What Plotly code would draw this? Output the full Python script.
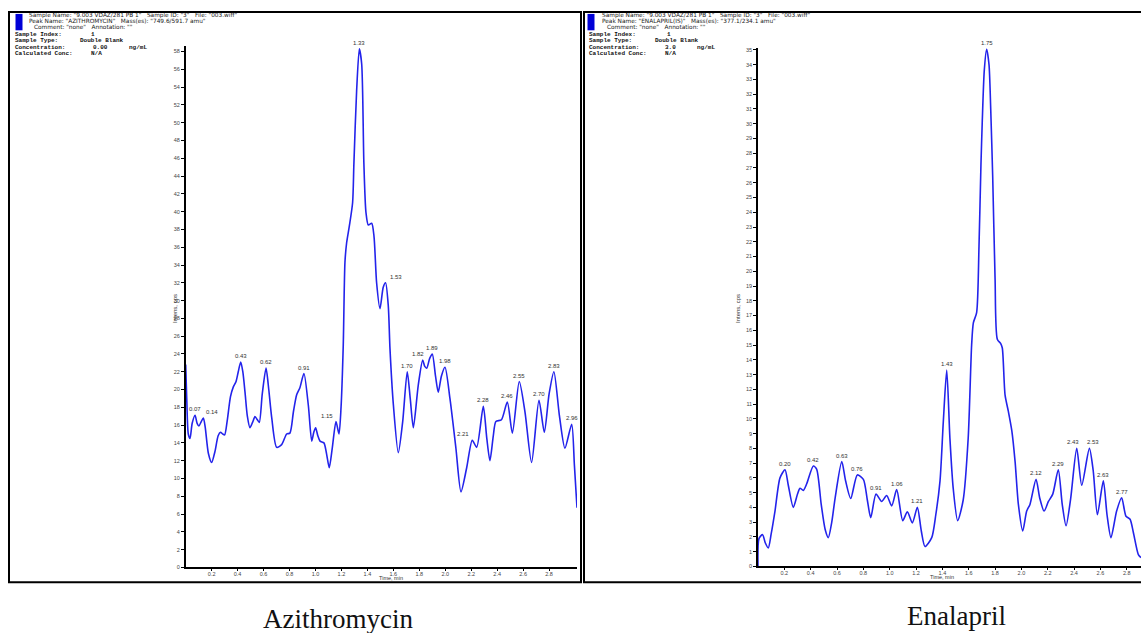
import plotly.graph_objects as go

W, H = 1141, 633

# ---------------- data ----------------
az_time = [0.000, 0.008, 0.020, 0.033, 0.050, 0.072, 0.088, 0.102, 0.120, 0.136, 0.150, 0.175,
           0.200, 0.225, 0.250, 0.268, 0.285, 0.300, 0.320, 0.345, 0.367, 0.388, 0.405, 0.424,
           0.440, 0.457, 0.475, 0.495, 0.515, 0.534, 0.552, 0.567, 0.590, 0.619, 0.640, 0.663,
           0.701, 0.739, 0.778, 0.803, 0.830, 0.855, 0.880, 0.911, 0.945, 0.971, 0.987, 1.001,
           1.018, 1.035, 1.065, 1.085, 1.106, 1.130, 1.158, 1.181, 1.197, 1.214, 1.227, 1.240,
           1.261, 1.286, 1.296, 1.317, 1.338, 1.356, 1.373, 1.389, 1.407, 1.433, 1.451, 1.471,
           1.497, 1.522, 1.540, 1.561, 1.574, 1.600, 1.638, 1.672, 1.707, 1.730, 1.754, 1.792,
           1.826, 1.842, 1.857, 1.880, 1.900, 1.925, 1.946, 1.970, 1.998, 2.036, 2.082, 2.121,
           2.165, 2.208, 2.242, 2.293, 2.320, 2.344, 2.370, 2.390, 2.433, 2.478, 2.517, 2.570,
           2.614, 2.665, 2.722, 2.763, 2.800, 2.837, 2.880, 2.922, 2.974, 2.995, 3.015]
az_int = [22.8, 19.0, 15.0, 14.5, 16.2, 17.1, 16.2, 15.9, 16.4, 16.8, 15.8, 12.8,
          11.8, 13.0, 14.8, 15.2, 15.0, 14.9, 16.5, 19.2, 20.3, 20.9, 22.0, 23.1,
          22.0, 19.7, 17.0, 15.7, 16.3, 16.95, 16.6, 16.3, 19.5, 22.4, 20.0, 16.8,
          13.5, 13.8, 15.0, 15.1, 17.5, 19.4, 20.2, 21.8, 18.2, 14.2, 15.2, 15.7,
          14.8, 14.2, 14.0, 12.8, 11.2, 13.5, 16.4, 15.0, 18.0, 25.0, 34.3, 36.5,
          38.4, 41.0, 45.4, 53.6, 58.3, 56.6, 45.4, 39.9, 38.5, 38.7, 37.2, 32.0,
          29.1, 31.5, 32.0, 29.4, 24.6, 18.3, 12.9, 16.4, 22.0, 19.0, 15.7, 20.5,
          23.3, 22.6, 22.4, 23.5, 24.0, 21.5, 19.7, 21.5, 22.5, 19.0, 13.4, 8.5,
          11.2, 14.3, 13.5, 18.1, 14.5, 12.0, 14.8, 16.4, 16.6, 18.6, 15.1, 20.9,
          17.5, 11.8, 18.8, 15.2, 19.5, 22.0, 17.0, 13.4, 16.1, 11.5, 6.7]
az_peak_labels = ["0.07", "0.14", "0.43", "0.62", "0.91", "1.15", "1.33", "1.53", "1.70", "1.82",
                  "1.89", "1.98", "2.21", "2.28", "2.46", "2.55", "2.70", "2.83", "2.96"]

en_time = [0.000, 0.008, 0.035, 0.055, 0.078, 0.100, 0.129, 0.167, 0.205, 0.230, 0.268, 0.300,
           0.319, 0.344, 0.370, 0.420, 0.445, 0.480, 0.510, 0.534, 0.560, 0.585, 0.636, 0.665,
           0.704, 0.754, 0.800, 0.830, 0.856, 0.896, 0.939, 0.977, 1.015, 1.053, 1.099, 1.134,
           1.172, 1.210, 1.240, 1.268, 1.319, 1.350, 1.382, 1.407, 1.433, 1.457, 1.482, 1.516,
           1.558, 1.596, 1.622, 1.635, 1.660, 1.678, 1.693, 1.703, 1.718, 1.736, 1.754, 1.767,
           1.782, 1.800, 1.817, 1.843, 1.855, 1.876, 1.901, 1.927, 1.952, 1.977, 2.010, 2.040,
           2.065, 2.111, 2.140, 2.172, 2.205, 2.238, 2.280, 2.310, 2.339, 2.374, 2.420, 2.458,
           2.516, 2.545, 2.577, 2.622, 2.650, 2.680, 2.723, 2.761, 2.794, 2.825, 2.850, 2.888,
           2.908]
en_int = [0.0, 1.9, 2.15, 1.6, 1.25, 2.2, 3.75, 6.0, 6.55, 5.5, 4.0, 4.9,
          5.3, 5.15, 5.6, 6.8, 6.6, 4.2, 2.5, 1.95, 3.0, 4.6, 7.1, 5.8,
          4.6, 6.2, 5.9, 4.5, 3.3, 4.9, 4.4, 4.8, 4.1, 5.2, 3.1, 3.7,
          2.95, 4.0, 2.4, 1.35, 1.95, 3.5, 5.8, 9.8, 13.3, 8.7, 5.3, 3.1,
          4.5, 8.7, 15.0, 16.5, 17.2, 21.7, 27.3, 30.2, 33.6, 35.05, 34.0, 31.0,
          26.4, 19.5, 15.4, 15.1, 14.8, 11.6, 10.5, 9.2, 7.1, 4.2, 2.4, 3.75,
          4.2, 5.9, 4.6, 3.75, 4.4, 4.9, 6.55, 4.2, 2.75, 4.6, 8.0, 5.5,
          8.0, 6.5, 3.5, 5.8, 3.5, 1.95, 3.75, 4.65, 3.4, 3.2, 2.3, 0.8,
          0.6]
en_peak_labels = ["0.20", "0.42", "0.63", "0.76", "0.91", "1.06", "1.21", "1.43", "1.75", "2.12",
                  "2.29", "2.43", "2.53", "2.63", "2.77"]

x_tick_vals = [0.2, 0.4, 0.6, 0.8, 1.0, 1.2, 1.4, 1.6, 1.8, 2.0, 2.2, 2.4, 2.6, 2.8]
x_tick_text = ["0.2", "0.4", "0.6", "0.8", "1.0", "1.2", "1.4", "1.6", "1.8", "2.0", "2.2", "2.4", "2.6", "2.8"]
az_y_ticks = list(range(0, 59, 2))
en_y_ticks = list(range(0, 36))

captions = ["Azithromycin", "Enalapril"]

az_header = ['Sample Name: "9.003 VDAZ/281 PB 1"   Sample ID: "3"   File: "003.wiff"',
             'Peak Name: "AZITHROMYCIN"   Mass(es): "749.6/591.7 amu"',
             'Comment: "none"   Annotation: ""']
en_header = ['Sample Name: "9.003 VDAZ/281 PB 1"   Sample ID: "3"   File: "003.wiff"',
             'Peak Name: "ENALAPRIL(IS)"   Mass(es): "377.1/234.1 amu"',
             'Comment: "none"   Annotation: ""']
info_keys = ["Sample Index:", "Sample Type:", "Concentration:", "Calculated Conc:"]
az_info_vals = ["1", "Double Blank", "0.00", "N/A"]
en_info_vals = ["1", "Double Blank", "3.0", "N/A"]
conc_unit = "ng/mL"

# ---------------- helpers ----------------
def px(x):
    return x / W

def py(y):
    return 1 - y / H

NB = "\u00a0"

def nb(s):
    return s.replace(" ", NB)

LINE_COL = "rgb(35,35,235)"
TXT = "#333333"

fig = go.Figure()
fig.add_trace(go.Scatter(x=az_time, y=az_int, mode="lines", xaxis="x", yaxis="y",
                         line=dict(color=LINE_COL, width=1.6, shape="spline", smoothing=0.7),
                         showlegend=False, hoverinfo="x+y"))
fig.add_trace(go.Scatter(x=en_time, y=en_int, mode="lines", xaxis="x2", yaxis="y2",
                         line=dict(color=LINE_COL, width=1.6, shape="spline", smoothing=0.7),
                         showlegend=False, hoverinfo="x+y"))

annotations = []

def peak_annotations(times, vals, labels, xref, yref, shifts):
    out = []
    for lab in labels:
        target = float(lab)
        cand = [i for i, t in enumerate(times) if abs(t - target) <= 0.03]
        i = max(cand, key=lambda k: vals[k])
        out.append(dict(x=times[i], y=vals[i], xref=xref, yref=yref, text=lab, showarrow=False,
                        yanchor="bottom", xanchor="center", yshift=1, xshift=shifts.get(lab, 0),
                        font=dict(family="Liberation Sans", size=6, color=TXT)))
    return out

az_shift = {"0.14": 9, "1.15": -9, "2.21": -9, "1.53": 10, "1.82": -5}
en_shift = {"2.43": -4, "2.53": 4}
annotations += peak_annotations(az_time, az_int, az_peak_labels, "x", "y", az_shift)
annotations += peak_annotations(en_time, en_int, en_peak_labels, "x2", "y2", en_shift)

# axis titles
for xpix in (170, 738):
    annotations.append(dict(x=px(xpix), y=py(310), xref="paper", yref="paper", text="Intens, cps",
                            textangle=-90, showarrow=False,
                            font=dict(family="Liberation Sans", size=6, color=TXT)))
for xpix, ypix in ((378, 581), (955, 580)):
    annotations.append(dict(x=px(xpix), y=py(ypix), xref="paper", yref="paper", text="Time, min",
                            showarrow=False, yanchor="middle", borderpad=0,
                            font=dict(family="Liberation Sans", size=5.5, color=TXT)))

# captions
for cap, (cx, cy) in zip(captions, [(338, 622), (957, 619)]):
    annotations.append(dict(x=px(cx), y=py(cy), xref="paper", yref="paper", text=cap,
                            showarrow=False, xanchor="center", yanchor="middle",
                            font=dict(family="Liberation Serif", size=27, color="#111111")))

# headers
def header(lines, x_first, key_x, val_x, unit_x, vals):
    out = []
    ys = [15, 20.5, 26]
    xs = [x_first, x_first, x_first + 5]
    for txt, xx, yy in zip(lines, xs, ys):
        out.append(dict(x=px(xx), y=py(yy), xref="paper", yref="paper", text=nb(txt),
                        showarrow=False, xanchor="left", yanchor="middle",
                        font=dict(family="DejaVu Sans", size=5.8, color="#222222")))
    ys2 = [33.5, 40, 46.5, 53]
    for k, v, yy, vx in zip(info_keys, vals, ys2, val_x):
        out.append(dict(x=px(key_x), y=py(yy), xref="paper", yref="paper", text=k,
                        showarrow=False, xanchor="left", yanchor="middle",
                        font=dict(family="Liberation Mono", size=6, color="#111111", weight="bold")))
        out.append(dict(x=px(vx), y=py(yy), xref="paper", yref="paper", text=nb(v),
                        showarrow=False, xanchor="left", yanchor="middle",
                        font=dict(family="Liberation Mono", size=6, color="#111111", weight="bold")))
    out.append(dict(x=px(unit_x), y=py(ys2[2]), xref="paper", yref="paper", text=conc_unit,
                    showarrow=False, xanchor="left", yanchor="middle",
                    font=dict(family="Liberation Mono", size=6, color="#111111", weight="bold")))
    return out

annotations += header(az_header, 27, 12.5, [89, 78, 90.5, 89], 127, az_info_vals)
annotations += header(en_header, 600, 587, [665, 652.5, 663, 663], 695, en_info_vals)

shapes = [
    dict(type="rect", xref="paper", yref="paper", x0=px(9), x1=px(581), y0=py(585), y1=py(11),
         line=dict(color="black", width=2)),
    dict(type="rect", xref="paper", yref="paper", x0=px(584), x1=px(1146), y0=py(585), y1=py(11),
         line=dict(color="black", width=2)),
    dict(type="rect", xref="paper", yref="paper", x0=px(15.5), x1=px(22.5), y0=py(29.5), y1=py(13),
         line=dict(width=0), fillcolor="rgb(0,0,215)"),
    dict(type="rect", xref="paper", yref="paper", x0=px(587.5), x1=px(594.5), y0=py(29.5), y1=py(13),
         line=dict(width=0), fillcolor="rgb(0,0,215)"),
]

tickfont = dict(family="Liberation Sans", size=5.5, color="#444444")
common_x = dict(showline=True, linecolor="black", linewidth=1.5, ticks="outside", ticklen=2,
                tickwidth=1, tickcolor="black", tickvals=x_tick_vals, ticktext=x_tick_text,
                tickfont=tickfont, showgrid=False, zeroline=False, fixedrange=True,
                ticklabelstandoff=-2)
common_y = dict(showline=True, linecolor="black", linewidth=1.5, ticks="outside", ticklen=3,
                tickwidth=1, tickcolor="black", tickfont=tickfont, showgrid=False,
                zeroline=False, fixedrange=True)

fig.update_layout(
    width=W, height=H, autosize=False,
    margin=dict(l=0, r=0, t=0, b=0),
    paper_bgcolor="white", plot_bgcolor="white",
    xaxis=dict(domain=[px(185.7), px(577)], range=[0, 3.015], anchor="y", **common_x),
    yaxis=dict(domain=[py(570), py(45.5)], range=[0, 58.6], anchor="x",
               tickvals=az_y_ticks, ticktext=[str(v) for v in az_y_ticks], **common_y),
    xaxis2=dict(domain=[px(758), 1.0], range=[0, 2.908], anchor="y2", **common_x),
    yaxis2=dict(domain=[py(569), py(47)], range=[0, 35.15], anchor="x2",
                tickvals=en_y_ticks, ticktext=[str(v) for v in en_y_ticks], **common_y),
    annotations=annotations,
    shapes=shapes,
    showlegend=False,
)

fig.write_html(
    "out.html",
    config={"displayModeBar": False},
    post_script="document.body.style.margin='0';document.body.style.padding='0';"
                "document.body.style.overflow='hidden';",
)
